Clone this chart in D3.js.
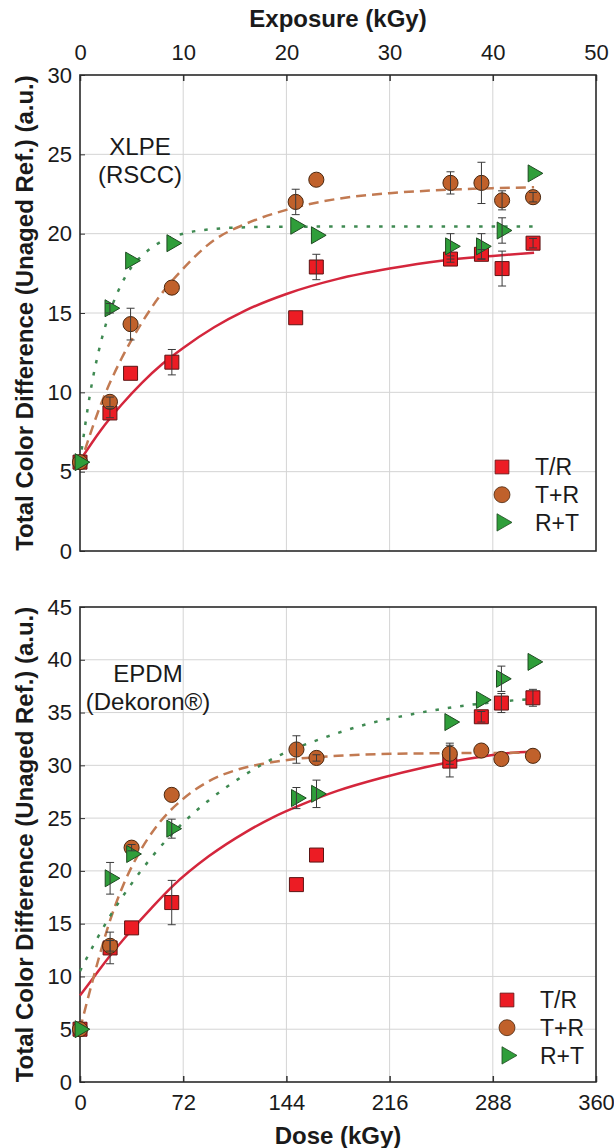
<!DOCTYPE html>
<html>
<head>
<meta charset="utf-8">
<script src="https://cdn.jsdelivr.net/npm/d3@7"></script>
<style>
body { margin: 0; background: #fff; }
text { font-family: "Liberation Sans", Arial, sans-serif; fill: #1a1a1a; }
</style>
</head>
<body>
<svg id="chart"></svg>
<script>
// sample positions (top panel in exposure kGy, bottom panel in dose kGy)
var exposureTop = [0, 2.9, 4.9, 8.9, 20.9, 22.9, 35.9, 38.9, 40.9, 43.9];
var doseBottom = [0, 21, 36, 64, 151, 165, 258, 280, 294, 316];

var seriesNames = ["T/R", "T+R", "R+T"];
var exposureTicks = [0, 10, 20, 30, 40, 50];
var doseTicks = [0, 72, 144, 216, 288, 360];
var xlpeTicks = [0, 5, 10, 15, 20, 25, 30];
var epdmTicks = [0, 5, 10, 15, 20, 25, 30, 35, 40, 45];

// XLPE (RSCC)
var xlpeTR = [5.6, 8.7, 11.2, 11.9, 14.7, 17.9, 18.4, 18.7, 17.8, 19.4];
var xlpeTRErr = [0, 0.3, 0, 0.8, 0, 0.8, 0.2, 0.3, 1.1, 0.3];
var xlpeTP = [5.6, 9.4, 14.3, 16.6, 22.0, 23.4, 23.2, 23.2, 22.1, 22.3];
var xlpeTPErr = [0, 0.3, 1.0, 0, 0.8, 0, 0.7, 1.3, 0.6, 0.3];
var xlpeRT = [5.6, 15.3, 18.3, 19.4, 20.5, 19.9, 19.2, 19.2, 20.2, 23.8];
var xlpeRTErr = [0, 0.3, 0, 0, 0, 0, 0.8, 0.8, 0.8, 0];

// XLPE fitted curves
var xlpeFitX = [0, 2, 4, 6, 8, 10, 13, 16, 20, 25, 30, 35, 40, 44];
var xlpeFitTR = [5.7, 7.6, 9.2, 10.6, 11.8, 12.8, 14.1, 15.15, 16.2, 17.15, 17.8, 18.3, 18.6, 18.8];
var xlpeFitTP = [5.4, 9.2, 12.1, 14.4, 16.3, 17.8, 19.6, 20.6, 21.5, 22.2, 22.55, 22.75, 22.87, 22.92];
var xlpeFitRTx = [0, 1, 2, 3, 4, 5, 6, 8, 10, 13, 16, 20, 30, 44];
var xlpeFitRT = [5.6, 10.0, 13.1, 15.25, 16.8, 17.9, 18.6, 19.55, 20.0, 20.3, 20.4, 20.44, 20.45, 20.45];

// EPDM (Dekoron)
var epdmTR = [5.0, 12.7, 14.6, 17.0, 18.7, 21.5, 30.4, 34.6, 35.9, 36.4];
var epdmTRErr = [0, 1.5, 0, 2.1, 0, 0, 1.5, 0.5, 0.9, 0.8];
var epdmTP = [5.0, 12.9, 22.2, 27.2, 31.5, 30.7, 31.1, 31.4, 30.6, 30.9];
var epdmTPErr = [0, 0.5, 0.3, 0, 1.3, 0.3, 1.0, 0, 0, 0];
var epdmRT = [5.0, 19.3, 21.6, 24.0, 26.9, 27.3, 34.1, 36.2, 38.2, 39.8];
var epdmRTErr = [0, 1.5, 0, 0.9, 1.0, 1.3, 0, 0, 1.2, 0];

// EPDM fitted curves
var epdmFitTRx = [0, 10, 20, 36, 50, 65, 90, 116, 135, 155, 180, 210, 240, 270, 295, 316];
var epdmFitTR = [8.2, 10.0, 11.8, 14.4, 16.5, 18.6, 21.4, 23.7, 25.1, 26.3, 27.6, 28.8, 29.8, 30.6, 31.1, 31.3];
var epdmFitTPx = [0, 10, 20, 30, 40, 55, 70, 90, 110, 130, 150, 180, 220, 260, 316];
var epdmFitTP = [5.0, 10.2, 14.9, 18.6, 21.4, 24.5, 26.6, 28.5, 29.6, 30.2, 30.6, 30.9, 31.1, 31.15, 31.2];
var epdmFitRTx = [0, 10, 20, 35, 50, 70, 90, 115, 140, 170, 200, 230, 260, 290, 316];
var epdmFitRT = [10.5, 13.1, 15.5, 18.6, 21.3, 24.3, 26.7, 29.1, 31.0, 32.6, 33.9, 34.8, 35.5, 36.0, 36.3];

var width = 614, height = 1148;
var left = 80, right = 596;

var svg = d3.select("#chart")
    .attr("width", width)
    .attr("height", height);

// marker styles per series
var markerFill = ["#ec1c24", "#c0612b", "#2f9e3a"];
var markerStroke = ["#5c1414", "#4a2810", "#1f4a22"];
var lineColor = ["#d4263c", "#c27a52", "#3f8a52"];
var lineDash = [null, "10,6", "3.5,9"];
var symbols = [
    d3.symbol().type(d3.symbolSquare).size(196),
    d3.symbol().type(d3.symbolCircle).size(180),
    d3.symbol().type(d3.symbolTriangle).size(125)
];
var symbolRotate = [0, 0, 90];

var xExposure = d3.scaleLinear().domain([0, 50]).range([left, right]);
var xDose = d3.scaleLinear().domain([0, 360]).range([left, right]);

function zip(xs, ys) {
    return xs.map(function(d, i) { return [d, ys[i]]; });
}

function drawPanel(p) {
    var x = p.x, y = p.y;
    var top = y.range()[1], bottom = y.range()[0];
    var g = svg.append("g");

    // grid lines
    g.selectAll(".vg").data(p.xTicks.slice(1, -1)).enter().append("line")
        .attr("x1", function(d) { return x(d); })
        .attr("x2", function(d) { return x(d); })
        .attr("y1", top).attr("y2", bottom)
        .attr("stroke", "#d4d4d4").attr("stroke-width", 1);
    g.selectAll(".hg").data(p.yTicks.slice(1, -1)).enter().append("line")
        .attr("x1", left).attr("x2", right)
        .attr("y1", function(d) { return y(d); })
        .attr("y2", function(d) { return y(d); })
        .attr("stroke", "#d4d4d4").attr("stroke-width", 1);

    // y axis
    var ya = g.append("g")
        .attr("transform", "translate(" + left + ",0)")
        .call(d3.axisLeft(y).tickValues(p.yTicks).tickSize(-5).tickPadding(8));
    ya.select(".domain").remove();
    ya.selectAll("line").attr("stroke", "#333");
    ya.selectAll("text").style("font-size", "22px").attr("fill", "#1a1a1a");

    // x axis (top or bottom)
    var xa;
    if (p.xSide === "top") {
        xa = g.append("g")
            .attr("transform", "translate(0," + top + ")")
            .call(d3.axisTop(x).tickValues(p.xTicks).tickSize(-6).tickPadding(15));
    } else {
        xa = g.append("g")
            .attr("transform", "translate(0," + bottom + ")")
            .call(d3.axisBottom(x).tickValues(p.xTicks).tickSize(-6).tickPadding(12));
    }
    xa.select(".domain").remove();
    xa.selectAll("line").attr("stroke", "#333").attr("stroke-width", 1.5);
    xa.selectAll("text").style("font-size", "22px").attr("fill", "#1a1a1a");

    // frame
    g.append("rect")
        .attr("x", left).attr("y", top)
        .attr("width", right - left).attr("height", bottom - top)
        .attr("fill", "none").attr("stroke", "#2a2a2a").attr("stroke-width", 1.6);

    // fitted curves
    var line = d3.line()
        .x(function(d) { return x(d[0]); })
        .y(function(d) { return y(d[1]); })
        .curve(d3.curveMonotoneX);
    p.fits.forEach(function(f, i) {
        g.append("path")
            .attr("d", line(zip(f[0], f[1])))
            .attr("fill", "none")
            .attr("stroke", lineColor[i])
            .attr("stroke-width", 2.5)
            .attr("stroke-dasharray", lineDash[i]);
    });

    // markers
    p.series.forEach(function(s, i) {
        g.selectAll(".m" + i).data(zip(p.xs, s)).enter().append("path")
            .attr("d", symbols[i])
            .attr("transform", function(d) {
                return "translate(" + x(d[0]) + "," + y(d[1]) + ") rotate(" + symbolRotate[i] + ")";
            })
            .attr("fill", markerFill[i])
            .attr("stroke", markerStroke[i])
            .attr("stroke-width", 1);
    });

    // error bars
    p.series.forEach(function(s, i) {
        var e = p.errs[i];
        var pts = p.xs.map(function(d, j) { return [d, s[j], e[j]]; })
            .filter(function(d) { return d[2] > 0; });
        var eb = g.selectAll(".e" + i).data(pts).enter().append("g")
            .attr("stroke", "#3a3a3a").attr("stroke-width", 1);
        eb.append("line")
            .attr("x1", function(d) { return x(d[0]); })
            .attr("x2", function(d) { return x(d[0]); })
            .attr("y1", function(d) { return y(d[1] - d[2]); })
            .attr("y2", function(d) { return y(d[1] + d[2]); });
        [-1, 1].forEach(function(sg) {
            eb.append("line")
                .attr("x1", function(d) { return x(d[0]) - 4; })
                .attr("x2", function(d) { return x(d[0]) + 4; })
                .attr("y1", function(d) { return y(d[1] + sg * d[2]); })
                .attr("y2", function(d) { return y(d[1] + sg * d[2]); });
        });
    });

    // material label
    g.append("text")
        .attr("x", p.label[0]).attr("y", p.label[1])
        .attr("text-anchor", "middle")
        .style("font-size", "24px")
        .selectAll("tspan").data(p.labelText).enter().append("tspan")
        .attr("x", p.label[0])
        .attr("dy", function(d, i) { return i === 0 ? 0 : 28; })
        .text(function(d) { return d; });

    // legend
    var lg = g.append("g").attr("transform", "translate(" + p.legend[0] + "," + p.legend[1] + ")");
    seriesNames.forEach(function(name, i) {
        lg.append("path")
            .attr("d", d3.symbol().type([d3.symbolSquare, d3.symbolCircle, d3.symbolTriangle][i]).size([190, 200, 130][i]))
            .attr("transform", "translate(0," + (i * 27.7) + ") rotate(" + symbolRotate[i] + ")")
            .attr("fill", markerFill[i])
            .attr("stroke", markerStroke[i])
            .attr("stroke-width", 0.8);
        lg.append("text")
            .attr("x", 33).attr("y", i * 27.7)
            .attr("dy", "0.36em")
            .style("font-size", "23px")
            .text(name);
    });

    // y label
    g.append("text")
        .attr("transform", "translate(33," + ((top + bottom) / 2) + ") rotate(-90)")
        .attr("text-anchor", "middle")
        .style("font-size", "24px")
        .style("font-weight", "bold")
        .text("Total Color Difference (Unaged Ref.) (a.u.)");
}

drawPanel({
    x: xExposure,
    y: d3.scaleLinear().domain([0, 30]).range([551, 75]),
    xTicks: exposureTicks,
    yTicks: xlpeTicks,
    xSide: "top",
    xs: exposureTop,
    series: [xlpeTR, xlpeTP, xlpeRT],
    errs: [xlpeTRErr, xlpeTPErr, xlpeRTErr],
    fits: [[xlpeFitX, xlpeFitTR], [xlpeFitX, xlpeFitTP], [xlpeFitRTx, xlpeFitRT]],
    label: [140, 155],
    labelText: ["XLPE", "(RSCC)"],
    legend: [502, 467]
});

drawPanel({
    x: xDose,
    y: d3.scaleLinear().domain([0, 45]).range([1082, 607]),
    xTicks: doseTicks,
    yTicks: epdmTicks,
    xSide: "bottom",
    xs: doseBottom,
    series: [epdmTR, epdmTP, epdmRT],
    errs: [epdmTRErr, epdmTPErr, epdmRTErr],
    fits: [[epdmFitTRx, epdmFitTR], [epdmFitTPx, epdmFitTP], [epdmFitRTx, epdmFitRT]],
    label: [148, 682],
    labelText: ["EPDM", "(Dekoron®)"],
    legend: [507, 1000]
});

// axis titles
svg.append("text")
    .attr("x", (left + right) / 2).attr("y", 27)
    .attr("text-anchor", "middle")
    .style("font-size", "24px").style("font-weight", "bold")
    .text("Exposure (kGy)");
svg.append("text")
    .attr("x", (left + right) / 2).attr("y", 1144)
    .attr("text-anchor", "middle")
    .style("font-size", "24px").style("font-weight", "bold")
    .text("Dose (kGy)");
</script>
</body>
</html>
